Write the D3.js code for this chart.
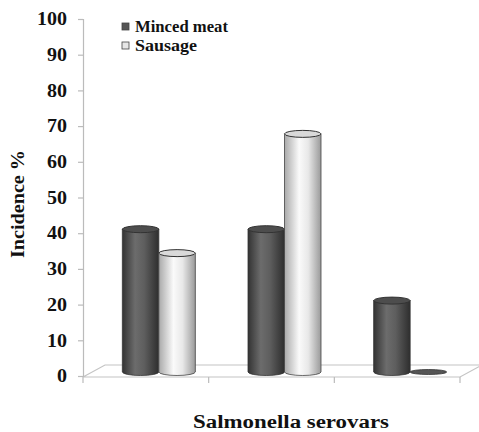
<!DOCTYPE html>
<html>
<head>
<meta charset="UTF-8">
<script src="https://cdnjs.cloudflare.com/ajax/libs/d3/7.8.5/d3.min.js"></script>
<style>
    body { margin: 0; background: #fff; }
    svg { display: block; }
    svg text { font-family: "Liberation Serif", "Times New Roman", serif; font-weight: bold; fill: #111; }
</style>
</head>
<body>
<svg width="479" height="432"></svg>
<script>
    // chart values
    const categories = ["Serovar 1", "Serovar 2", "Serovar 3"];
    const seriesNames = ["Minced meat", "Sausage"];
    const mincedMeat = [40, 40, 20];
    const sausage = [33.3, 66.7, 0];
    const yTicks = [0, 10, 20, 30, 40, 50, 60, 70, 80, 90, 100];

    const svg = d3.select("svg");

    const x0 = 83, x1 = 460, yTop = 19, yBase = 376;
    const depth = {dx: 22, dy: -12};   // floor depth offset

    const x = d3.scaleBand().domain(categories).range([x0, x1]);
    const xs = d3.scaleBand().domain(seriesNames).range([0, 73]);
    const y = d3.scaleLinear().domain([0, 100]).range([yBase, yTop]);

    // gradients
    const defs = svg.append("defs");
    function grad(id, stops) {
        const g = defs.append("linearGradient").attr("id", id)
            .attr("x1", "0%").attr("x2", "100%").attr("y1", "0%").attr("y2", "0%");
        stops.forEach(s => g.append("stop").attr("offset", s[0]).attr("stop-color", s[1]));
    }
    grad("gMinced", [["0%", "#333"], ["35%", "#6c6c6c"], ["60%", "#5e5e5e"], ["100%", "#2e2e2e"]]);
    grad("gSausage", [["0%", "#a9a9a9"], ["40%", "#fafafa"], ["65%", "#e8e8e8"], ["100%", "#9a9a9a"]]);

    const styles = {
        "Minced meat": {body: "url(#gMinced)", top: "#4d4d4d", stroke: "#333", legend: "#555"},
        "Sausage": {body: "url(#gSausage)", top: "#d9d9d9", stroke: "#444", legend: "#e6e6e6"}
    };

    // floor
    svg.append("path")
        .attr("d", `M${x0},${yBase + 1}L${x1},${yBase + 1}L${x1 + depth.dx},${yBase + 1 + depth.dy}L${x0 + depth.dx},${yBase + 1 + depth.dy}Z`)
        .attr("fill", "none").attr("stroke", "#c4c4c4").attr("stroke-width", 1.2);

    // category ticks on front edge
    const catEdges = categories.map(c => x(c)).concat([x1]);
    svg.selectAll(".ctick").data(catEdges).enter().append("line")
        .attr("x1", d => d).attr("x2", d => d)
        .attr("y1", yBase + 1).attr("y2", yBase + 7)
        .attr("stroke", "#bbb").attr("stroke-width", 1.2);

    // y axis
    const yAxis = svg.append("g")
        .attr("transform", `translate(${x0},0)`)
        .call(d3.axisLeft(y).tickValues(yTicks).tickSize(5).tickPadding(11));
    yAxis.attr("font-family", null).attr("font-size", null);
    yAxis.select(".domain").attr("stroke", "#bbb").attr("stroke-width", 1.2);
    yAxis.selectAll(".tick line").attr("stroke", "#bbb").attr("stroke-width", 1.2);
    yAxis.selectAll(".tick text")
        .attr("textLength", d => d === 100 ? 30 : (d === 0 ? 10 : 20))
        .attr("lengthAdjust", "spacingAndGlyphs")
        .style("font-size", "18px").attr("fill", "#222");

    // cylinders
    const bars = [];
    categories.forEach((c, i) => {
        bars.push({cat: c, s: "Minced meat", v: mincedMeat[i]});
        bars.push({cat: c, s: "Sausage", v: sausage[i]});
    });

    const ry = 3.5;
    const offX = 13 + (x.bandwidth() - 73) / 2;
    const g = svg.append("g");
    bars.forEach(b => {
        const left = x(b.cat) + offX + xs(b.s);
        const w = xs.bandwidth();
        const rx = w / 2, cx = left + rx;
        const yb = y(0) - 4, yt = y(b.v) - 4;
        const st = styles[b.s];
        if (b.v > 0) {
            g.append("path")
                .attr("d", `M${left},${yt}L${left},${yb}A${rx},${ry} 0 0 0 ${left + w},${yb}L${left + w},${yt}Z`)
                .attr("fill", st.body).attr("stroke", st.stroke).attr("stroke-width", 0.8);
            g.append("ellipse")
                .attr("cx", cx).attr("cy", yt).attr("rx", rx).attr("ry", ry)
                .attr("fill", st.top).attr("stroke", "#333").attr("stroke-width", 1);
        } else {
            g.append("ellipse")
                .attr("cx", cx).attr("cy", yb).attr("rx", rx).attr("ry", 2.5)
                .attr("fill", "#555").attr("stroke", "#333").attr("stroke-width", 0.8);
        }
    });

    // legend
    const legendWidths = [93, 62];
    const legend = svg.append("g").attr("transform", "translate(122,27)");
    seriesNames.forEach((s, i) => {
        const row = legend.append("g").attr("transform", `translate(0,${i * 19})`);
        row.append("rect").attr("x", 0).attr("y", -4).attr("width", 7).attr("height", 7)
            .attr("fill", styles[s].legend).attr("stroke", "#444").attr("stroke-width", 0.8);
        row.append("text").attr("x", 13).attr("y", 5)
            .attr("textLength", legendWidths[i]).attr("lengthAdjust", "spacingAndGlyphs")
            .style("font-size", "16px").text(s);
    });

    // axis titles
    svg.append("text")
        .attr("transform", "translate(24,204) rotate(-90)")
        .attr("text-anchor", "middle")
        .attr("textLength", 108).attr("lengthAdjust", "spacingAndGlyphs")
        .style("font-size", "19px")
        .text("Incidence %");

    svg.append("text")
        .attr("x", 193).attr("y", 428)
        .attr("textLength", 196).attr("lengthAdjust", "spacingAndGlyphs")
        .style("font-size", "18px")
        .text("Salmonella serovars");
</script>
</body>
</html>
